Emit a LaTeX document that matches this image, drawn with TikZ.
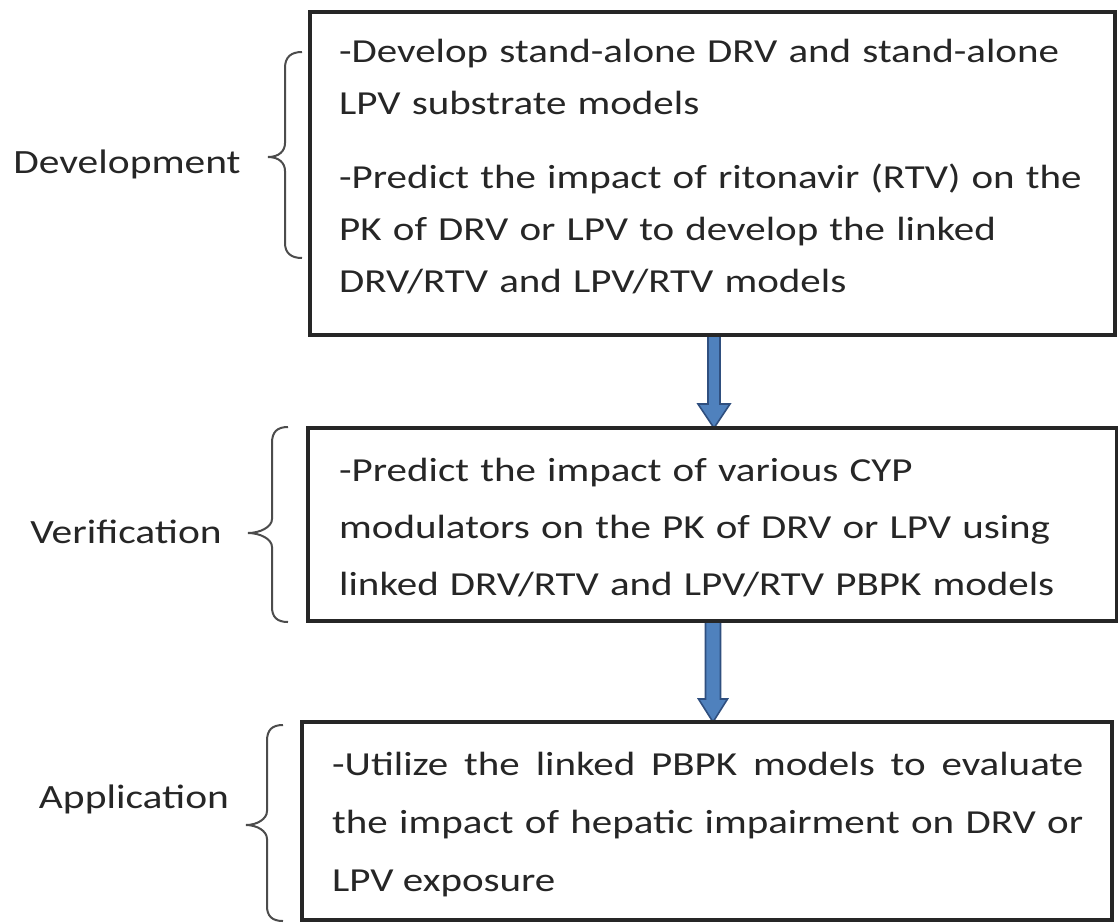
\documentclass[tikz,border=0pt]{standalone}
\usepackage{fontspec}
\setmainfont{Carlito}[FakeStretch=1.22]
\usetikzlibrary{calc}
\definecolor{txt}{HTML}{262626}
\definecolor{arrfill}{HTML}{4F81BD}
\definecolor{arrline}{HTML}{2F4F7F}
\begin{document}
\begin{tikzpicture}[x=1pt,y=-1pt,
  box/.style={draw=black!85, line width=3.2pt, anchor=north west, inner sep=0pt, outer sep=0pt},
  body/.style={anchor=base west, inner sep=0pt, text=txt, font=\fontsize{33.6}{52}\selectfont},
  steplabel/.style={anchor=base, inner sep=0pt, text=txt, font=\fontsize{34}{40}\selectfont},
  brace/.style={draw=black!70, line width=2pt},
  blockarrow/.style={fill=arrfill, draw=arrline, line width=1.6pt, line join=miter}]
\useasboundingbox[fill=white] (0,0) rectangle (1118,922);

% boxes
\node[box, minimum width=805pt, minimum height=323pt] (b1) at (310,12) {};
\node[box, minimum width=809pt, minimum height=193pt] (b2) at (308,428) {};
\node[box, minimum width=810pt, minimum height=198pt] (b3) at (302,722) {};

% arrows
\draw[blockarrow] let \p1=(b1.south), \p2=(b2.north) in
  (\x1-4.5pt,\y1) -- (\x1-4.5pt,\y2+24pt) -- (\x1-14.5pt,\y2+24pt) -- (\x1+1.5pt,\y2)
  -- (\x1+17.5pt,\y2+24pt) -- (\x1+7.5pt,\y2+24pt) -- (\x1+7.5pt,\y1) -- cycle;
\draw[blockarrow] let \p1=(b2.south), \p2=(b3.north) in
  (\x1-7pt,\y1) -- (\x1-7pt,\y2+23pt) -- (\x1-14pt,\y2+23pt) -- (\x1+0.5pt,\y2)
  -- (\x1+15pt,\y2+23pt) -- (\x1+8pt,\y2+23pt) -- (\x1+8pt,\y1) -- cycle;

% redraw box borders on top
\draw[draw=black!85, line width=3.2pt] (b1.north west) rectangle (b1.south east);
\draw[draw=black!85, line width=3.2pt] (b2.north west) rectangle (b2.south east);
\draw[draw=black!85, line width=3.2pt] (b3.north west) rectangle (b3.south east);

% box texts
\node[body, text width=770pt, align=left] (t1) at (339,62)
  {-Develop stand-alone DRV and stand-alone\\
   LPV substrate models\\[22pt]
   -Predict the impact of ritonavir (RTV) on the\\
   PK of DRV or LPV to develop the linked\\
   DRV/RTV and LPV/RTV models};
\node[body, text width=770pt, align=left, font=\fontsize{33.6}{57}\selectfont] (t2) at (339,481)
  {-Predict the impact of various CYP\\
   modulators on the PK of DRV or LPV using\\
   linked DRV/RTV and LPV/RTV PBPK models};
\node[body, text width=751pt, align=justify, font=\fontsize{33.6}{58}\selectfont] (t3) at (332,775)
  {-Utilize the linked PBPK models to evaluate\linebreak
   the impact of hepatic impairment on DRV or\linebreak
   LPV exposure};

% stage labels
\node[steplabel] (l1) at (127,173) {Development};
\node[steplabel] (l2) at (126,543) {Verification};
\node[steplabel] (l3) at (134,808) {Application};

% braces
\draw[brace] (302,52) .. controls (291,52) and (285,57) .. (285,68) -- (285,143)
  .. controls (285,151) and (279,157) .. (268,157)
  .. controls (279,157) and (285,163) .. (285,171) -- (285,243)
  .. controls (285,253) and (291,258) .. (302,258);
\draw[brace] (288,427) .. controls (277,427) and (272,432) .. (272,443) -- (272,519)
  .. controls (272,527) and (260,533) .. (248,533)
  .. controls (260,533) and (272,539) .. (272,547) -- (272,607)
  .. controls (272,617) and (277,622) .. (288,622);
\draw[brace] (283,725) .. controls (272,725) and (267,730) .. (267,741) -- (267,811)
  .. controls (267,819) and (257,825) .. (246,825)
  .. controls (257,825) and (267,831) .. (267,839) -- (267,906)
  .. controls (267,916) and (272,921) .. (283,921);
\end{tikzpicture}
\end{document}
